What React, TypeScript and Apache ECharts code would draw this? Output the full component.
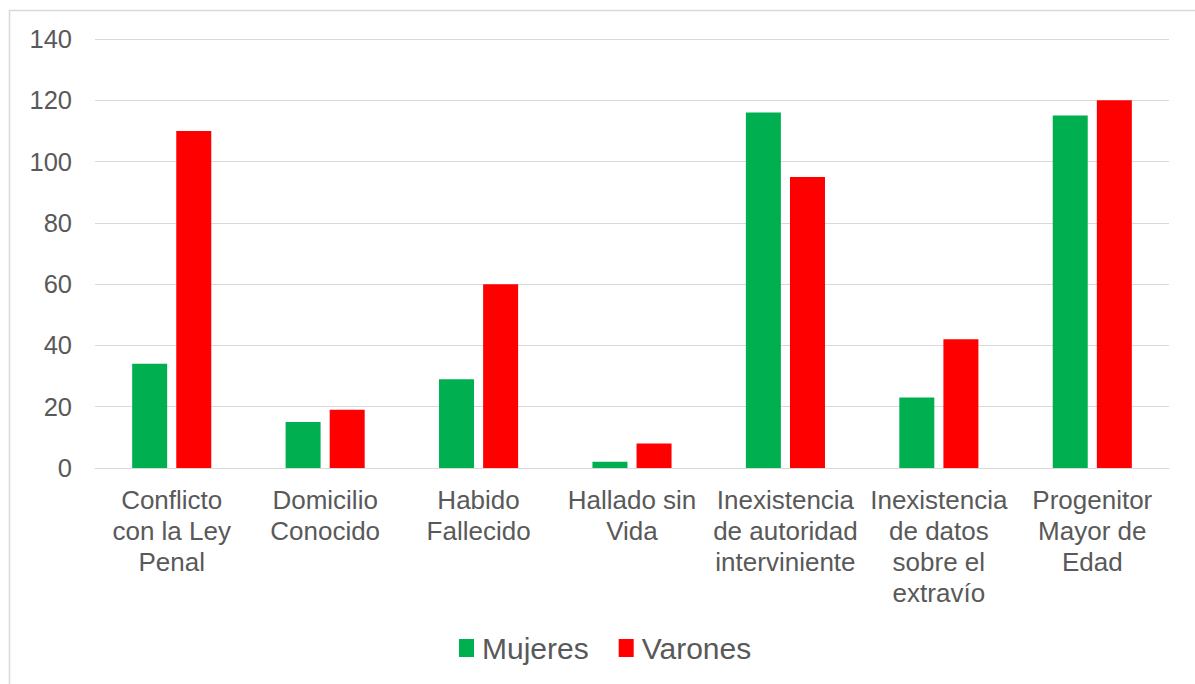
import React, { useEffect, useRef } from "react";
import * as echarts from "echarts";

const categories = [
  "Conflicto\ncon la Ley\nPenal",
  "Domicilio\nConocido",
  "Habido\nFallecido",
  "Hallado sin\nVida",
  "Inexistencia\nde autoridad\ninterviniente",
  "Inexistencia\nde datos\nsobre el\nextravío",
  "Progenitor\nMayor de\nEdad",
];
const mujeres = [34, 15, 29, 2, 116, 23, 115];
const varones = [110, 19, 60, 8, 95, 42, 120];
const yTicks = { min: 0, max: 140, interval: 20 };

export default function App() {
  const ref = useRef<HTMLDivElement>(null);
  useEffect(() => {
    document.body.style.margin = "0";
    const chart = echarts.init(ref.current!, null, { renderer: "svg" });
    const font = "Liberation Sans, Arial, sans-serif";
    chart.setOption({
      animation: false,
      backgroundColor: "#ffffff",
      textStyle: { fontFamily: font },
      graphic: [
        {
          type: "rect",
          shape: { x: 9.5, y: 10.5, width: 1200, height: 700 },
          style: { fill: "none", stroke: "#d9d9d9", lineWidth: 1.5 },
          silent: true,
        },
      ],
      grid: { left: 95, right: 26, top: 39, bottom: 216, containLabel: false },
      legend: {
        top: 628,
        left: 454,
        itemWidth: 15,
        itemHeight: 18,
        itemGap: 30,
        icon: "rect",
        textStyle: {
          fontSize: 30,
          color: "#595959",
          fontFamily: font,
          padding: [0, 0, 0, 3],
        },
        data: ["Mujeres", "Varones"],
      },
      xAxis: {
        type: "category",
        data: categories,
        axisLine: { show: true, lineStyle: { color: "#d9d9d9", width: 1 } },
        axisTick: { show: false },
        axisLabel: {
          interval: 0,
          fontSize: 26,
          color: "#595959",
          lineHeight: 31,
          margin: 16,
          fontFamily: font,
        },
      },
      yAxis: {
        type: "value",
        min: yTicks.min,
        max: yTicks.max,
        interval: yTicks.interval,
        axisLine: { show: false },
        axisTick: { show: false },
        splitLine: { lineStyle: { color: "#d9d9d9", width: 1 } },
        axisLabel: { fontSize: 25.5, color: "#595959", margin: 23, fontFamily: font },
      },
      series: [
        {
          name: "Mujeres",
          type: "bar",
          data: mujeres,
          barWidth: 35,
          barGap: "26%",
          itemStyle: { color: "#00b050" },
        },
        {
          name: "Varones",
          type: "bar",
          data: varones,
          barWidth: 35,
          itemStyle: { color: "#ff0000" },
        },
      ],
    });
    return () => chart.dispose();
  }, []);
  return <div ref={ref} style={{ width: 1195, height: 684 }} />;
}
